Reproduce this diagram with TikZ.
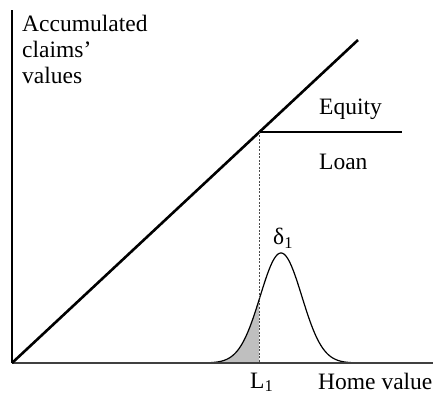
\documentclass[tikz,border=0pt]{standalone}
\usepackage{fontspec}
\setmainfont{Liberation Serif}
\usepackage{tikz}
\usetikzlibrary{positioning}

\begin{document}
\begin{tikzpicture}[x=1pt, y=1pt, every node/.style={font=\fontsize{23.5}{26}\selectfont, inner sep=0pt}]
    \useasboundingbox (0,0) rectangle (433,396);
    % Key points
    \coordinate (O) at (12,33);
    \coordinate (K) at (259,264);

    % Shaded tail below L1
    \fill[gray!50] (190,33) -- plot[domain=190:259, samples=60, smooth] (\x, {33+110*exp(-((\x-281)^2)/868)}) -- (259,33) -- cycle;
    % Density
    \draw[line width=1.2pt, domain=190:372, samples=150, smooth] plot (\x, {33+110*exp(-((\x-281)^2)/868)});

    % Axes
    \draw[line width=1.3pt] (O) -- (12,386);
    \draw[line width=1.6pt, black!75] (O) -- (433,33);

    % Claims lines
    \draw[line width=2.6pt] (O) -- (358,356);
    \draw[line width=2.6pt] (K) -- (402,264);
    \draw[line width=0.7pt, dash pattern=on 2pt off 1.5pt, black!70] (K) -- (259,33);

    % Labels
    \node[anchor=north west, align=left] (yl) at (22,381) {Accumulated\\claims'\\values};
    \node[anchor=base west] (eq) at (319,281) {Equity};
    \node[anchor=base west] (ln) at (319,226) {Loan};
    \node[anchor=base west] (dl) at (273,151) {δ\textsubscript{1}};
    \node[anchor=base west] (l1) at (250,8) {L\textsubscript{1}};
    \node[anchor=base west] (xl) at (318,7) {Home value};
\end{tikzpicture}
\end{document}
